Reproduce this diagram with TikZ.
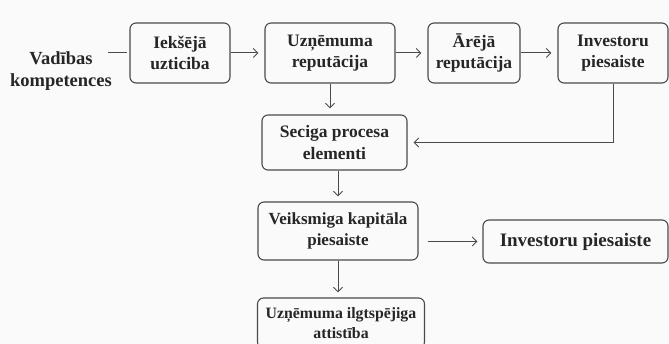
\documentclass[tikz,border=0pt]{standalone}
\usepackage{fontspec}
\setmainfont{Liberation Serif}
\usepackage{tikz}
\usetikzlibrary{arrows.meta, calc, positioning}

\definecolor{trait}{HTML}{4A4A4A}
\definecolor{texte}{HTML}{262626}

\begin{document}
\begin{tikzpicture}[x=1pt, y=-1pt,
    boite/.style={draw=trait, line width=1.1pt, rounded corners=6pt, align=center,
        inner sep=0pt, text=texte, font=\fontsize{17.5}{21.5}\selectfont\bfseries},
    fleche/.style={draw=trait, line width=1pt, shorten >=6pt,
        -{Straight Barb[length=4.5pt, width=9pt]}}
]
    % Fond
    \fill[white!98!black] (0,0) rectangle (669,344);
    \useasboundingbox (0,0) rectangle (669,344);

    % Ligne du haut
    \node[align=center, inner sep=0pt, text=texte, font=\fontsize{18.5}{22}\selectfont\bfseries] (vad) at (61,71) {Vadības\\kompetences};
    \node[boite, minimum width=100pt, minimum height=60pt] (iek) at (180,53) {Iekšējā\\uzticiba};
    \node[boite, minimum width=130pt, minimum height=60pt] (uzn) at (330,53) {Uzņēmuma\\reputācija};
    \node[boite, minimum width=92pt, minimum height=60pt] (are) at (474,53) {Ārējā\\reputācija};
    \node[boite, minimum width=110pt, minimum height=60pt] (inv) at (613,53) {Investoru\\piesaiste};

    % Colonne centrale
    \node[boite, minimum width=145pt, minimum height=55pt] (sec) at (334.5,142.5) {Seciga procesa\\elementi};
    \node[boite, minimum width=160pt, minimum height=58pt, font=\fontsize{17}{21}\selectfont\bfseries] (vei) at (338,231) {Veiksmiga kapitāla\\piesaiste};
    \node[boite, minimum width=185pt, minimum height=43pt, font=\fontsize{19}{23}\selectfont\bfseries] (inv2) at (575.5,241.5) {Investoru piesaiste};
    \node[boite, minimum width=167pt, minimum height=50pt, font=\fontsize{15.8}{20}\selectfont\bfseries] (ilg) at (341,323) {Uzņēmuma ilgtspējiga\\attistība};

    % Flèches
    \draw[trait, line width=1pt, shorten <=-4pt, shorten >=2pt] (vad.east |- iek.west) -- (iek.west);
    \draw[fleche] (iek) -- (uzn);
    \draw[fleche] (uzn) -- (are);
    \draw[fleche] (are) -- (inv);
    \draw[fleche] (uzn.south) -- (uzn.south |- sec.north);
    \draw[fleche] (inv.south) |- (sec.east);
    \draw[fleche, shorten >=5pt] (sec.south -| vei.north) -- (vei.north);
    \draw[fleche, shorten <=9pt, shorten >=5pt] (vei.east |- inv2.west) -- (inv2.west);
    \draw[fleche, shorten >=5pt] (vei.south) -- (vei.south |- ilg.north);
\end{tikzpicture}
\end{document}
